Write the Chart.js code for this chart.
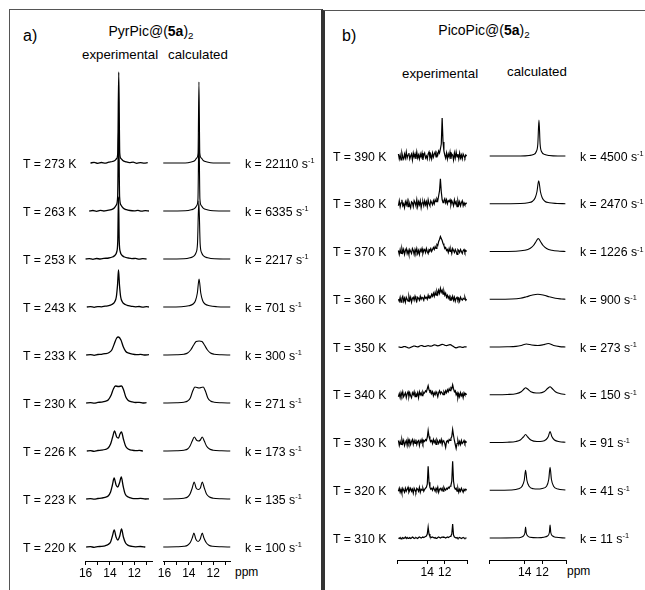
<!DOCTYPE html>
<html>
<head>
<meta charset="utf-8">
<script src="https://cdn.jsdelivr.net/npm/chart.js@4/dist/chart.umd.min.js"></script>
<style>
  html, body { margin: 0; padding: 0; background: #fff; }
  body { width: 645px; height: 590px; position: relative; overflow: hidden;
         font-family: "Liberation Sans", Arial, Helvetica, sans-serif; color: #000; }
  .panel { position: absolute; border: 1px solid #555; }
  .txt { position: absolute; white-space: nowrap; line-height: 1; }
  .row { font-size: 12.3px; transform: translateY(-50%); }
  .title { font-size: 14px; transform: translateX(-50%); }
  .hdr { font-size: 13.3px; }
  .tag { font-size: 16px; }
  .sup { font-size: 0.6em; position: relative; top: -0.55em; }
  .sub { font-size: 0.7em; position: relative; top: 0.3em; }
  canvas { position: absolute; }
</style>
</head>
<body>
<div class="panel" style="left:9px;top:9px;width:311px;height:640px;border-right:2px solid #333"></div>
<div class="panel" style="left:323px;top:10px;width:400px;height:640px;border-left:2px solid #333"></div>

<div class="txt tag" style="left:23px;top:28px">a)</div>
<div class="txt title" style="left:151px;top:24px">PyrPic@(<b>5a</b>)<span class="sub">2</span></div>
<div class="txt hdr" style="left:82px;top:48px">experimental</div>
<div class="txt hdr" style="left:168px;top:48px">calculated</div>
<div class="txt hdr" style="left:235px;top:566px;font-size:12px">ppm</div>

<div class="txt tag" style="left:342px;top:28px">b)</div>
<div class="txt title" style="left:484px;top:23px">PicoPic@(<b>5a</b>)<span class="sub">2</span></div>
<div class="txt hdr" style="left:402px;top:67px">experimental</div>
<div class="txt hdr" style="left:507px;top:65px">calculated</div>
<div class="txt hdr" style="left:567px;top:565px;font-size:12px">ppm</div>

<script>
// ---- panel a) PyrPic@(5a)2 ----
const tempsA = [273, 263, 253, 243, 233, 230, 226, 223, 220];
const ratesA = [22110, 6335, 2217, 701, 300, 271, 173, 135, 100];

// [ppm, intensity], top row first
const expA = [
  [[15.6,0],[15.3,0.6],[15.0,-0.4],[14.7,0.5],[14.4,-0.2],[14.1,0.8],[13.8,1.5],[13.6,2.5],[13.45,4.5],[13.36,10],[13.28,91],[13.2,10],[13.1,4.5],[12.95,2.5],[12.7,1.2],[12.4,0.3],[12.1,0.8],[11.8,-0.3],[11.5,0.4],[11.2,-0.2],[10.9,0.3]],
  [[15.7,0],[15.4,0.5],[15.1,-0.3],[14.8,0.6],[14.5,0],[14.2,0.7],[13.9,1.3],[13.65,3],[13.48,6],[13.37,14],[13.29,85],[13.21,14],[13.1,6],[12.92,3],[12.65,1.3],[12.35,0.5],[12.0,0.2],[11.7,0.6],[11.4,-0.2],[11.1,0.3],[10.8,0]],
  [[16.0,0],[15.7,0.4],[15.4,-0.3],[15.1,0.5],[14.8,0],[14.5,0.6],[14.1,1],[13.8,2],[13.6,3.5],[13.45,7],[13.36,18],[13.3,62],[13.24,18],[13.15,7],[13.0,3.5],[12.8,2],[12.5,1],[12.2,0.4],[11.9,0.6],[11.6,-0.2],[11.3,0.3],[11.0,0]],
  [[15.9,0],[15.6,0.4],[15.3,-0.3],[15.0,0.4],[14.7,0.2],[14.4,0.8],[14.1,1.3],[13.85,2.5],[13.62,5],[13.48,10],[13.38,22],[13.3,37],[13.22,22],[13.12,10],[12.98,5],[12.75,2.5],[12.5,1.3],[12.2,0.6],[11.9,0.2],[11.6,0.5],[11.3,-0.2],[11.0,0.3],[10.8,0]],
  [[15.95,0],[15.6,0.4],[15.3,-0.3],[15.0,0.5],[14.7,0.7],[14.4,1.3],[14.1,2.3],[13.85,5],[13.65,11],[13.45,17],[13.3,18],[13.1,15],[12.9,8],[12.7,3.5],[12.45,1.8],[12.15,0.8],[11.85,0.3],[11.5,0.6],[11.2,0],[10.8,0.3]],
  [[15.95,0],[15.6,0.3],[15.3,-0.2],[15.0,0.6],[14.7,0.9],[14.4,1.6],[14.15,3],[13.9,8],[13.72,14],[13.55,17],[13.3,16.5],[13.05,17],[12.88,13],[12.7,6],[12.5,2.5],[12.2,1.2],[11.9,0.5],[11.6,0.7],[11.3,0],[11.0,0.3]],
  [[15.9,0],[15.6,0.3],[15.3,-0.3],[15.0,0.5],[14.7,0.8],[14.4,1.5],[14.15,3],[13.95,7],[13.78,14],[13.62,20],[13.45,14],[13.3,13],[13.18,17],[13.05,19],[12.9,12],[12.72,5],[12.5,2],[12.2,0.8],[11.9,0.3],[11.6,0.6],[11.3,0]],
  [[15.95,0],[15.6,0.4],[15.3,-0.2],[15.0,0.5],[14.7,0.9],[14.4,1.6],[14.15,3],[13.95,7],[13.8,14],[13.66,21],[13.5,14],[13.36,12],[13.22,16],[13.07,22],[12.92,13],[12.75,5],[12.5,2],[12.2,0.7],[11.9,0.3],[11.5,0.6],[11.1,0],[10.8,0.2]],
  [[15.95,0],[15.6,0.3],[15.3,-0.3],[15.0,0.4],[14.7,0.6],[14.4,1.2],[14.15,2.5],[13.95,5],[13.8,11],[13.65,17],[13.5,10],[13.36,7],[13.2,11],[13.05,18],[12.9,10],[12.72,4],[12.5,1.6],[12.2,0.6],[11.9,0.2],[11.5,0.5],[11.1,0]]
];

const calcA = [
  [[16.1,0],[14.3,0],[13.8,1],[13.5,2.5],[13.35,5],[13.24,10],[13.17,81],[13.1,10],[12.98,5],[12.82,2.5],[12.5,1],[12.0,0],[10.6,0]],
  [[16.1,0],[14.3,0.2],[13.8,1.2],[13.5,2.8],[13.35,5.5],[13.25,12],[13.17,78],[13.09,12],[12.98,5.5],[12.82,2.8],[12.5,1.2],[12.0,0.2],[10.6,0]],
  [[16.1,0],[14.4,0.2],[13.9,1.2],[13.6,2.8],[13.42,6],[13.29,15],[13.18,58],[13.07,15],[12.94,6],[12.76,2.8],[12.45,1.2],[11.9,0.2],[10.6,0]],
  [[16.1,0],[14.6,0.3],[14.0,1.2],[13.65,3],[13.45,6.5],[13.3,14],[13.16,28],[13.02,14],[12.87,6.5],[12.67,3],[12.3,1.2],[11.7,0.3],[10.6,0]],
  [[16.1,0],[15.0,0.2],[14.4,0.8],[14.1,2],[13.85,5],[13.6,10],[13.4,13.5],[13.16,14],[12.92,13.5],[12.72,10],[12.47,5],[12.22,2],[11.92,0.8],[11.3,0.2],[10.6,0]],
  [[16.1,0],[15.0,0.2],[14.4,0.8],[14.1,2],[13.88,5],[13.68,12],[13.5,16],[13.16,15],[12.82,16],[12.64,12],[12.44,5],[12.22,2],[11.92,0.8],[11.3,0.2],[10.6,0]],
  [[16.1,0],[15.0,0.2],[14.4,0.8],[14.1,2],[13.9,5],[13.72,10],[13.55,14],[13.38,11],[13.22,10],[13.05,11],[12.9,14],[12.73,10],[12.55,5],[12.3,2],[12.0,0.8],[11.3,0.2],[10.6,0]],
  [[16.1,0],[15.0,0.2],[14.4,0.8],[14.1,2],[13.9,5],[13.72,11],[13.56,17],[13.4,11],[13.22,9.5],[13.05,11],[12.9,17],[12.73,11],[12.55,5],[12.3,2],[12.0,0.8],[11.3,0.2],[10.6,0]],
  [[16.1,0],[15.0,0.2],[14.4,0.7],[14.1,1.8],[13.88,4.5],[13.72,9],[13.58,14],[13.43,8],[13.24,5.5],[13.06,8],[12.9,14],[12.76,9],[12.58,4.5],[12.35,1.8],[12.05,0.7],[11.3,0.2],[10.6,0]]
];

const ticksA = [16, 15, 14, 13, 12, 11];
const labelsA = [16, 14, 12];

// ---- panel b) PicoPic@(5a)2 ----
const tempsB = [390, 380, 370, 360, 350, 340, 330, 320, 310];
const ratesB = [4500, 2470, 1226, 900, 273, 150, 91, 41, 11];

// experimental traces sampled every 0.1 ppm from 17.3 ppm down to 9.5 ppm
const expBStart = 17.3;
const expBStep = 0.1;
const expB = [
  [2,-3,1,-4,3,-1,-3,2,-2,4, -2,1,3,-3,0,2,-4,3,-1,2, -3,4,-2,1,-3,2,-1,3,-4,1, 3,-2,0,-3,2,4,-2,1,-3,3,
   -1,2,4,-1,3,1,5,3,7,12, 38,14,5,1,-2,3,-3,2,-1,4, -3,2,1,-4,3,-2,4,-1,2,-3, 3,-2,1,-3,2,0,-2,1,0],
  [-2,3,-3,1,4,-2,0,-4,2,-1, 3,-3,2,-1,-4,2,1,-3,3,1, -2,4,-3,2,-1,3,-4,1,2,-2, 3,-1,2,-3,4,0,-2,3,1,-1,
   3,0,4,2,5,3,8,13,25,12, 4,1,3,5,1,4,0,3,2,4, -1,3,1,-2,4,0,2,-3,3,-1, 2,-2,1,3,-2,1,-1,0,1],
  [1,-3,2,-2,3,-1,2,-3,1,3, -2,1,-3,2,0,-2,3,1,-3,2, -1,3,-2,1,-3,2,0,3,-2,1, 2,-1,3,0,-2,2,1,3,0,2,
   4,2,5,3,7,6,10,12,15,13, 11,8,6,3,4,1,2,-1,3,0, 2,-2,3,1,-1,2,0,-3,2,1, -1,2,0,-2,1,2,-1,1,0],
  [0,-2,2,-3,1,3,-2,1,-3,2, 0,-2,3,-1,2,-3,1,2,-1,3, 0,-2,2,1,-1,3,0,2,1,-1, 3,1,2,0,4,1,3,2,5,3,
   6,3,7,4,8,5,9,6,11,7, 9,5,8,4,6,2,4,1,3,-1, 2,0,3,-1,2,-2,1,2,-1,1, -2,2,0,-1,1,0,2,-1,0],
  [0,0,-0.3,-0.5,-0.3,0,0.3,0.5,0.3,0, -0.4,-0.8,-1,-0.8,-0.4,0,0.4,0.8,1,0.8, 0.5,0.3,0.2,0.4,0.8,1.2,1.5,1.3,1,0.7, 0.5,0.6,0.9,1.2,1.4,1.2,0.9,0.8,1,1.4,
   1.8,2.1,2,1.7,1.4,1.2,1.3,1.6,2,2.4, 2.6,2.5,2.2,1.8,1.5,1.4,1.6,1.9,2.2,2.3, 2.1,1.6,1,0.4,-0.2,-0.6,-0.8,-0.6,-0.3,0, 0.2,0.1,-0.2,-0.4,-0.3,0,0.2,0.1,0],
  [-2,1,-3,2,-1,3,-2,0,2,-3, 1,3,-2,2,-1,-3,2,0,3,-2, 1,-1,2,-3,3,0,2,-1,3,1, 2,4,3,6,9,5,3,4,1,3,
   -1,2,0,3,1,-2,2,4,1,3, 2,0,3,1,4,2,5,3,6,4, 7,6,10,6,3,4,0,2,-3,1, -2,2,-1,1,-3,2,0,1,0],
  [2,-3,1,-2,3,-1,2,-3,0,2, -3,3,-1,2,-2,1,3,-2,2,-1, 3,-2,1,2,-3,2,0,3,-1,2, 1,3,2,5,12,6,3,1,2,-1,
   3,0,2,-2,3,1,-1,2,0,3, -2,2,1,-1,-5,1,2,0,3,2, 4,6,13,7,2,-2,-6,-1,2,-2, 1,-2,2,-1,0,2,-1,1,0],
  [-1,2,-2,1,-3,2,0,-2,2,-1, 1,3,-2,0,2,-1,1,-3,2,0, -2,2,1,-1,3,-2,1,0,2,-1, 1,2,3,6,24,8,3,1,2,0,
   3,1,-1,2,0,3,-2,1,2,0, 2,-1,3,1,0,2,1,3,2,4, 5,9,29,9,3,1,2,-1,2,-2, 1,-1,2,0,-2,1,0,1,0],
  [0,-0.5,0.5,-1,0,0.5,-0.5,0,1,-0.5, 0.5,-0.5,0,0.5,-0.5,0,1,0.5,-0.5,0, 0.5,0,-0.5,0.5,1,0.5,0,0.5,1,0.5, 1,1.5,2,4,11,4,1.5,1,0.5,1,
   0.5,0,0.5,-0.5,0,0.5,1,0.5,0,0.5, 1,0.5,1,0.5,0,0.5,1,0.5,1,1.5, 2,4,14,3,1,0.5,0,0.5,-0.5,0, 0.5,0,-0.5,0,0.5,0,-0.5,0,0]
];
const smoothExpB = [350];

const calcB = [
  [[18,0],[14.5,0],[13.5,0.5],[13.0,1.5],[12.7,4],[12.5,12],[12.37,36],[12.24,12],[12.05,4],[11.7,1.5],[11.2,0.5],[10.2,0],[9.35,0]],
  [[18,0],[14.5,0.3],[13.6,1],[13.1,2.5],[12.8,6],[12.6,12],[12.4,23],[12.2,12],[12.0,6],[11.7,2.5],[11.2,1],[10.3,0.3],[9.35,0]],
  [[18,0],[15,0.3],[14,1.2],[13.4,3],[13.0,6],[12.7,10],[12.45,13],[12.2,10],[11.9,6],[11.5,3],[10.9,1.2],[10,0.3],[9.35,0]],
  [[18,0],[15.5,0.3],[14.5,1],[13.8,2.5],[13.2,4],[12.5,5],[11.8,4],[11.2,2.5],[10.5,1],[9.8,0.3],[9.35,0]],
  [[18,0],[16,0.2],[15,0.6],[14.4,1.5],[13.8,3],[13.2,2],[12.5,1.5],[11.9,2.2],[11.3,3.5],[10.7,1.5],[10,0.4],[9.35,0]],
  [[18,0],[16,0.3],[15,1],[14.4,3],[14.05,6],[13.9,7],[13.7,6],[13.3,3],[12.7,1.8],[12.3,1.8],[11.8,3],[11.35,6.5],[11.1,8],[10.9,6.5],[10.5,3],[9.9,1],[9.35,0.3]],
  [[18,0],[16,0.3],[15,1],[14.5,2.5],[14.15,5.5],[13.9,8],[13.65,5.5],[13.3,2.5],[12.6,1],[12,1.2],[11.55,3],[11.3,6],[11.1,11],[10.9,6],[10.6,2.5],[10,0.8],[9.35,0.3]],
  [[18,0],[15.5,0.3],[14.7,1.5],[14.3,4],[14.05,10],[13.9,20],[13.75,10],[13.5,4],[13.0,1.5],[12.5,1.2],[12.0,1.8],[11.5,4],[11.25,11],[11.1,23],[10.95,11],[10.7,4],[10.2,1.3],[9.35,0.3]],
  [[18,0],[15,0.2],[14.4,0.8],[14.1,2.5],[13.97,5.5],[13.9,11],[13.83,5.5],[13.7,2.5],[13.4,0.8],[12.5,0.3],[11.8,0.8],[11.4,2],[11.18,5.5],[11.1,13],[11.02,5.5],[10.8,2],[10.4,0.7],[9.35,0]]
];

const ticksBExp = [17.46, 14, 12, 9.46];
const ticksBCalc = [18.08, 14, 12, 9.28];
const labelsB = [14, 12];

// ---- layout ----
const PAD = 12;
const AXIS_H = 20;

function addText(html, left, top, cls) {
  const d = document.createElement('div');
  d.className = 'txt ' + cls;
  d.style.left = left + 'px';
  d.style.top = top + 'px';
  d.innerHTML = html;
  document.body.appendChild(d);
}

function makeChart(box, traces, opts) {
  const cv = document.createElement('canvas');
  const w = box.right - box.left + 2 * PAD;
  const h = box.axis - box.top + AXIS_H;
  cv.width = w; cv.height = h;
  cv.style.left = (box.left - PAD) + 'px';
  cv.style.top = box.top + 'px';
  cv.style.width = w + 'px'; cv.style.height = h + 'px';
  document.body.appendChild(cv);

  const n = traces.length;
  const datasets = traces.map((pts, r) => ({
    data: pts.map(([x, y]) => ({ x: x, y: (n - 1 - r) * box.gap + y })),
    borderColor: '#000',
    borderWidth: opts.lineWidth,
    pointRadius: 0,
    fill: false,
    clip: false,
    tension: opts.smooth[r] ? 0.4 : 0,
    cubicInterpolationMode: opts.smooth[r] === 'mono' ? 'monotone' : 'default'
  }));

  return new Chart(cv.getContext('2d'), {
    type: 'line',
    data: { datasets: datasets },
    options: {
      responsive: false,
      animation: false,
      devicePixelRatio: 1,
      layout: { padding: { left: PAD, right: PAD, top: 0, bottom: 0 } },
      plugins: { legend: { display: false }, tooltip: { enabled: false } },
      scales: {
        x: {
          type: 'linear',
          reverse: true,
          min: opts.xMin, max: opts.xMax,
          afterBuildTicks: (s) => { s.ticks = opts.ticks.map(v => ({ value: v })); },
          afterFit: (s) => { s.height = AXIS_H; },
          grid: { drawOnChartArea: false, drawTicks: true, tickLength: 4, color: '#000', lineWidth: 1 },
          border: { display: true, color: '#000', width: 1 },
          ticks: {
            autoSkip: false, maxRotation: 0, minRotation: 0, padding: 1,
            color: '#000',
            font: { family: '"Liberation Sans", Arial, sans-serif', size: 12 },
            callback: (v) => opts.labels.includes(v) ? String(v) : ''
          }
        },
        y: {
          display: false,
          min: -(box.axis - box.baseline0),
          max: (box.axis - box.top) - (box.axis - box.baseline0)
        }
      }
    }
  });
}

function rowLabels(chart, box, n, leftText, rightText, xl, xr) {
  for (let r = 0; r < n; r++) {
    const y = box.top + chart.scales.y.getPixelForValue((n - 1 - r) * box.gap) + 0.5;
    addText(leftText[r], xl, y, 'row');
    addText(rightText[r], xr, y, 'row');
  }
}

const boxAExp  = { left: 85,  right: 152, top: 60, axis: 561, baseline0: 547, gap: 48 };
const boxACalc = { left: 163, right: 230, top: 60, axis: 561, baseline0: 547, gap: 48 };
const boxBExp  = { left: 397, right: 467, top: 90, axis: 560, baseline0: 538, gap: 47.75 };
const boxBCalc = { left: 489, right: 566, top: 90, axis: 560, baseline0: 538, gap: 47.75 };

const chartAExp = makeChart(boxAExp, expA, {
  xMin: 10.55, xMax: 16.05, ticks: ticksA, labels: labelsA, lineWidth: 1.3,
  smooth: expA.map(() => 'mono')
});
makeChart(boxACalc, calcA, {
  xMin: 10.62, xMax: 16.12, ticks: ticksA, labels: labelsA, lineWidth: 1.1,
  smooth: calcA.map(() => 'mono')
});

const expBPts = expB.map(vals => vals.map((v, i) => [expBStart - i * expBStep, v]));
const chartBExp = makeChart(boxBExp, expBPts, {
  xMin: 9.46, xMax: 17.46, ticks: ticksBExp, labels: labelsB, lineWidth: 1.2,
  smooth: tempsB.map(t => smoothExpB.includes(t) ? 'soft' : false)
});
makeChart(boxBCalc, calcB, {
  xMin: 9.28, xMax: 18.08, ticks: ticksBCalc, labels: labelsB, lineWidth: 1.1,
  smooth: calcB.map(() => 'mono')
});

rowLabels(chartAExp, boxAExp, tempsA.length,
  tempsA.map(t => `T = ${t} K`), ratesA.map(k => `k = ${k} s<span class="sup">-1</span>`), 23, 245);
rowLabels(chartBExp, boxBExp, tempsB.length,
  tempsB.map(t => `T = ${t} K`), ratesB.map(k => `k = ${k} s<span class="sup">-1</span>`), 333, 580);
</script>
</body>
</html>
